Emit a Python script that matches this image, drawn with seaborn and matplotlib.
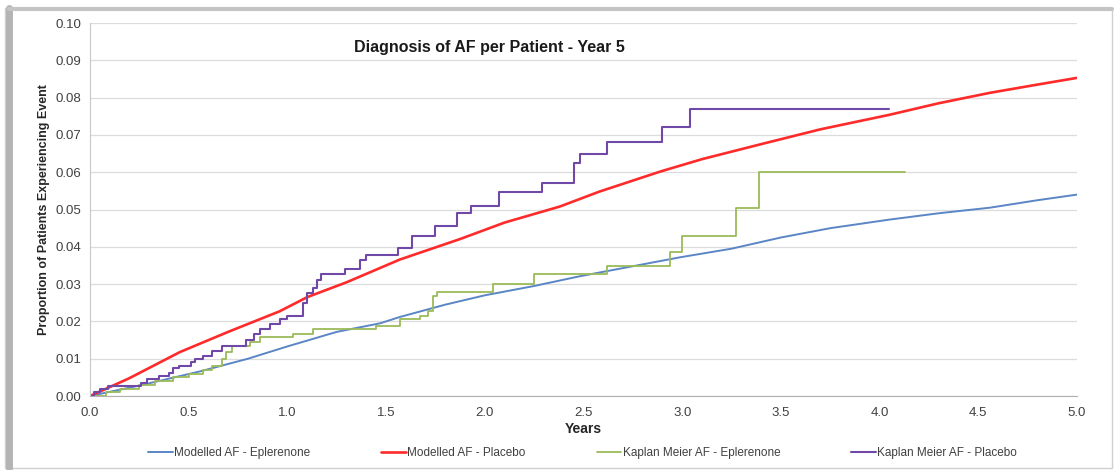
import matplotlib
matplotlib.use("Agg")
import matplotlib.pyplot as plt
from matplotlib.patches import Rectangle
import pandas as pd
import seaborn as sns

# modelled curves (years, proportion)
mod_epl_x = [0, 0.25, 0.557, 0.8, 1.0, 1.25, 1.47, 1.57, 1.8, 2.0, 2.25, 2.48, 2.75,
             2.99, 3.25, 3.5, 3.75, 4.05, 4.3, 4.56, 4.8, 5.0]
mod_epl_y = [0, 0.0028, 0.0066, 0.0100, 0.0133, 0.0172, 0.0195, 0.0212, 0.0245, 0.027,
             0.0295, 0.0321, 0.0348, 0.0372, 0.0395, 0.0425, 0.045, 0.0473, 0.049,
             0.0505, 0.0525, 0.054]

mod_pla_x = [0, 0.2, 0.456, 0.7, 0.96, 1.10, 1.3, 1.57, 1.72, 1.87, 2.1, 2.38, 2.58,
             2.89, 3.1, 3.39, 3.7, 4.05, 4.3, 4.56, 4.8, 5.0]
mod_pla_y = [0, 0.0048, 0.0118, 0.0172, 0.0227, 0.0265, 0.0305, 0.0366, 0.0393, 0.042,
             0.0465, 0.0508, 0.0548, 0.0602, 0.0635, 0.0674, 0.0715, 0.0754, 0.0785,
             0.0813, 0.0835, 0.0853]

# Kaplan Meier step curves
km_epl_x = [0, 0.08, 0.15, 0.25, 0.33, 0.42, 0.50, 0.57, 0.62, 0.67, 0.69, 0.72, 0.81,
            0.86, 1.03, 1.13, 1.45, 1.57, 1.67, 1.71, 1.74, 1.76, 2.04, 2.25, 2.62,
            2.94, 3.00, 3.27, 3.39, 4.13]
km_epl_y = [0, 0.001, 0.002, 0.003, 0.004, 0.005, 0.006, 0.007, 0.008, 0.010, 0.0117,
            0.0134, 0.0144, 0.0158, 0.0166, 0.018, 0.0188, 0.0206, 0.0214, 0.0228,
            0.0267, 0.028, 0.030, 0.0326, 0.0348, 0.0385, 0.0428, 0.0503, 0.060, 0.060]

km_pla_x = [0, 0.02, 0.05, 0.09, 0.26, 0.29, 0.35, 0.40, 0.42, 0.45, 0.51, 0.53, 0.57,
            0.62, 0.67, 0.79, 0.83, 0.86, 0.91, 0.96, 1.00, 1.08, 1.10, 1.13, 1.15,
            1.17, 1.29, 1.37, 1.40, 1.56, 1.63, 1.75, 1.86, 1.93, 2.07, 2.29, 2.45,
            2.48, 2.62, 2.90, 3.04, 4.05]
km_pla_y = [0, 0.001, 0.002, 0.0027, 0.0035, 0.0045, 0.0053, 0.0062, 0.0075, 0.008,
            0.009, 0.0099, 0.0107, 0.012, 0.0134, 0.015, 0.0166, 0.018, 0.0193, 0.0206,
            0.0214, 0.025, 0.0275, 0.029, 0.031, 0.0326, 0.034, 0.0366, 0.0378, 0.0396,
            0.0428, 0.0455, 0.049, 0.051, 0.0548, 0.057, 0.0625, 0.065, 0.068, 0.072,
            0.077, 0.077]

x_ticks = [0.0, 0.5, 1.0, 1.5, 2.0, 2.5, 3.0, 3.5, 4.0, 4.5, 5.0]
y_ticks = [0.00, 0.01, 0.02, 0.03, 0.04, 0.05, 0.06, 0.07, 0.08, 0.09, 0.10]

sns.set_style("white")
plt.rcParams["font.family"] = ["Liberation Sans", "DejaVu Sans"]

fig = plt.figure(figsize=(11.14, 4.70), dpi=100)
ax = fig.add_axes([0.0808, 0.1574, 0.886, 0.7936])

# chart frame with the Excel-like shadow on the left and top
fig.patches.append(Rectangle((5 / 1114, 2 / 470), 1107 / 1114, 460 / 470,
                             transform=fig.transFigure, fill=False,
                             edgecolor="#d0d0d0", lw=1.0))
fig.add_artist(plt.Line2D([9 / 1114, 9 / 1114], [2 / 470, 462 / 470],
                          transform=fig.transFigure, color="#b4b4b4", lw=5))
fig.add_artist(plt.Line2D([9 / 1114, 1112 / 1114], [461 / 470, 461 / 470],
                          transform=fig.transFigure, color="#c4c4c4", lw=3))

series = [
    ("Modelled AF - Eplerenone", mod_epl_x, mod_epl_y, "#5b86c5", 1.4, "default"),
    ("Modelled AF - Placebo", mod_pla_x, mod_pla_y, "#ff2a2a", 1.9, "default"),
    ("Kaplan Meier AF - Eplerenone", km_epl_x, km_epl_y, "#9bbb59", 1.3, "steps-post"),
    ("Kaplan Meier AF - Placebo", km_pla_x, km_pla_y, "#7048a8", 1.5, "steps-post"),
]
for label, xs, ys, color, lw, ds in series:
    df = pd.DataFrame({"x": xs, "y": ys})
    sns.lineplot(data=df, x="x", y="y", ax=ax, color=color, lw=lw,
                 drawstyle=ds, label=label, estimator=None)

ax.set_xlim(0, 5)
ax.set_ylim(0, 0.10)
ax.set_xticks(x_ticks)
ax.set_xticklabels([f"{v:.1f}" for v in x_ticks])
ax.set_yticks(y_ticks)
ax.set_yticklabels([f"{v:.2f}" for v in y_ticks])
ax.tick_params(axis="both", labelsize=9.5, colors="#9a9a9a", labelcolor="#404040",
               length=3, width=0.8, direction="out")
ax.tick_params(axis="x", pad=5)
ax.grid(axis="y", color="#dcdcdc", lw=0.9)
ax.grid(axis="x", visible=False)
for side in ("top", "right"):
    ax.spines[side].set_visible(False)
ax.spines["left"].set_color("#c8c8c8")
ax.spines["bottom"].set_color("#b0b0b0")

ax.set_xlabel("Years", fontsize=10, fontweight="bold", labelpad=2)
ax.set_ylabel("Proportion of Patients Experiencing Event", fontsize=9,
              fontweight="bold", labelpad=4)
ax.text(0.405, 0.935, "Diagnosis of AF per Patient - Year 5", transform=ax.transAxes,
        ha="center", va="center", fontsize=11.5, fontweight="bold", color="#1a1a1a")

ax.legend(loc="lower center", bbox_to_anchor=(0.523, 0.0), bbox_transform=fig.transFigure,
          ncol=4, frameon=False, fontsize=8.5, handlelength=2.1, columnspacing=6.0,
          handletextpad=0.1, labelcolor="#404040")

fig.savefig("out.png", dpi=100)
